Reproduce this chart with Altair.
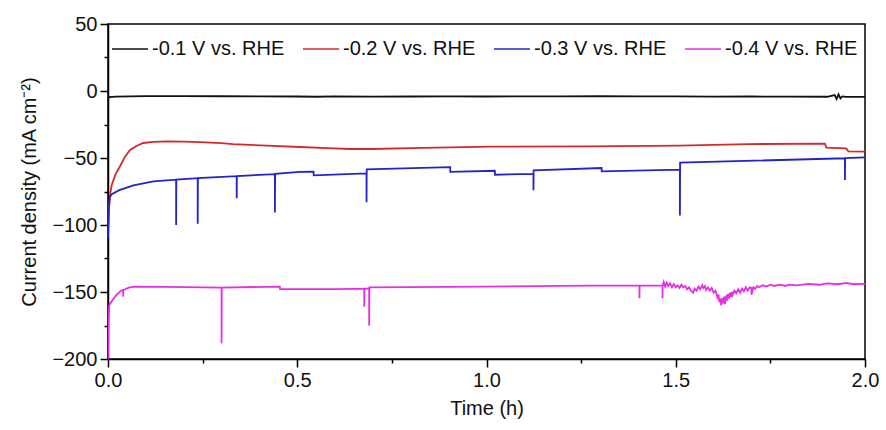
import altair as alt
import pandas as pd

# ---- data ----
labels = ["-0.1 V vs. RHE", "-0.2 V vs. RHE", "-0.3 V vs. RHE", "-0.4 V vs. RHE"]
colors = ["#111111", "#d42a2a", "#2323c8", "#e62ee6"]

t_01 = [0, 0.003, 0.02, 0.1, 0.2, 0.3, 0.4, 0.5, 0.55, 0.6, 0.7, 0.8, 0.9, 1.0, 1.1, 1.2,
        1.3, 1.4, 1.5, 1.6, 1.7, 1.8, 1.9, 1.92, 1.925, 1.93, 1.935, 1.94, 1.95, 2.0]
j_01 = [-6, -4.5, -4.2, -3.8, -3.8, -3.9, -4.0, -4.1, -4.3, -4.0, -4.2, -4.1, -4.0, -4.1, -4.0, -4.0,
        -3.9, -4.0, -4.0, -4.2, -4.1, -4.2, -4.3, -3.0, -6.0, -2.5, -5.5, -4.0, -4.4, -4.4]

t_02 = [0, 0.002, 0.005, 0.01, 0.02, 0.032, 0.045, 0.058, 0.075, 0.093, 0.12, 0.155, 0.2, 0.243,
        0.3, 0.33, 0.42, 0.507, 0.58, 0.64, 0.7, 0.83, 1.01, 1.27, 1.51, 1.69, 1.894, 1.898,
        1.95, 1.956, 2.0]
j_02 = [-105, -90, -78, -70, -62, -56, -49, -44, -41, -38.8, -38, -37.6, -37.8, -38.1,
        -38.9, -39.6, -40.8, -41.8, -42.7, -43.3, -43.3, -42.5, -41.5, -41.3, -40.8, -39.6, -39.3, -42.3,
        -42.8, -45, -45.2]

t_03 = [0, 0.002, 0.005, 0.01, 0.03, 0.067, 0.12, 0.18, 0.18, 0.1805, 0.237, 0.237, 0.2375,
        0.34, 0.34, 0.3405, 0.441, 0.441, 0.4415, 0.507, 0.543, 0.5435, 0.683, 0.683, 0.6835,
        0.904, 0.9045, 1.022, 1.0225, 1.124, 1.124, 1.1245, 1.304, 1.3045, 1.511, 1.511, 1.5115,
        1.947, 1.947, 1.9475, 2.0]
j_03 = [-110, -88, -79, -77, -74, -70.5, -67.5, -66.2, -100, -66.2, -65, -99, -65,
        -63.5, -80, -63.5, -62, -90.6, -61.8, -60.3, -60.2, -63, -61.5, -83, -58.5,
        -56.8, -60.3, -59.5, -62.5, -61.8, -74, -59.3, -57.5, -60, -58.7, -93, -53.5,
        -50.2, -66.5, -50, -49.5]

t_04 = [0, 0.001, 0.003, 0.012, 0.023, 0.035, 0.04, 0.04, 0.0405, 0.055, 0.067, 0.15,
        0.3, 0.3, 0.3005, 0.454, 0.4545, 0.6, 0.677, 0.677, 0.6775, 0.69, 0.69, 0.6905,
        0.9, 1.273, 1.404, 1.404, 1.4045, 1.465, 1.465, 1.4655,
        1.468, 1.472, 1.476, 1.48, 1.485, 1.49, 1.495, 1.50, 1.505, 1.51, 1.515, 1.52, 1.525,
        1.53, 1.535, 1.54, 1.546, 1.55, 1.555, 1.56, 1.565, 1.57, 1.573, 1.577,
        1.58, 1.585, 1.59, 1.595, 1.60, 1.605, 1.61, 1.613, 1.615, 1.618, 1.62, 1.623, 1.625,
        1.628, 1.63, 1.633, 1.635, 1.638, 1.64, 1.643, 1.645, 1.648, 1.65, 1.655, 1.66, 1.665,
        1.67, 1.675, 1.68, 1.685, 1.69, 1.695, 1.70, 1.70, 1.705, 1.71, 1.715, 1.72, 1.73,
        1.74, 1.75, 1.76, 1.775, 1.79, 1.80, 1.82, 1.85, 1.88, 1.90, 1.93, 1.95, 1.97, 2.0]
j_04 = [-200, -175, -160, -156, -152, -149, -148.5, -153.5, -148.5, -146.8, -146, -146.2,
        -146.7, -188.3, -146.7, -146, -147.9, -147.9, -147.5, -161, -147.5, -147.3, -175, -146.6,
        -146.2, -145.3, -145.3, -154.6, -145.3, -145.3, -154.6, -145,
        -142.5, -146, -143, -145.5, -143.5, -146.5, -144, -146.5, -145, -147, -144.5, -146.5, -145.5,
        -148, -146.5, -149, -150.5, -147.5, -149, -146, -148, -145, -147, -145.5,
        -148.5, -146.5, -149, -147, -150.5, -149, -154, -152, -157.5, -155, -160, -154.5, -158.5,
        -153.5, -159, -152.5, -156.5, -151.5, -155, -150.5, -153.5, -150, -152.5, -149, -151, -148,
        -150.5, -147.5, -149.5, -146.5, -149, -146.5, -147, -152, -146.5, -147.5, -145.5, -146.5, -145,
        -146, -144.5, -145.5, -144.5, -145.5, -144.5, -145, -144, -144.6, -143.6, -144.2, -143.2, -144.2, -144]

x_ticks = [0, 0.25, 0.5, 0.75, 1.0, 1.25, 1.5, 1.75, 2.0]
y_ticks = [-200, -175, -150, -125, -100, -75, -50, -25, 0, 25, 50]

rows = []
for lab, ts, js in zip(labels, [t_01, t_02, t_03, t_04], [j_01, j_02, j_03, j_04]):
    for i, (t, j) in enumerate(zip(ts, js)):
        rows.append({"series": lab, "t": t, "j": j, "idx": i})
df = pd.DataFrame(rows)

FONT = "Liberation Sans"

chart = alt.Chart(df).mark_line(strokeWidth=1.8, clip=True).encode(
    x=alt.X("t:Q", title="Time (h)",
            scale=alt.Scale(domain=[0, 2], nice=False),
            axis=alt.Axis(values=x_ticks, format=".1f", labelFlush=False,
                          labelExpr="round(datum.value*4) % 2 === 0 ? datum.label : ''",
                          tickSize={"condition": {"test": "round(datum.value*4) % 2 === 0", "value": 8}, "value": 4},
                          grid=False, titlePadding=8)),
    y=alt.Y("j:Q", title="Current density (mA cm⁻²)",
            scale=alt.Scale(domain=[-200, 50], nice=False),
            axis=alt.Axis(values=y_ticks, labelFlush=False,
                          labelExpr="datum.value % 50 === 0 ? datum.label : ''",
                          tickSize={"condition": {"test": "datum.value % 50 === 0", "value": 8}, "value": 4},
                          grid=False, titlePadding=12)),
    color=alt.Color("series:N", scale=alt.Scale(domain=labels, range=colors),
                    legend=alt.Legend(title=None, orient="none", direction="horizontal",
                                      legendX=3, legendY=6, symbolType="stroke",
                                      symbolSize=1300, symbolStrokeWidth=1.5,
                                      labelFont=FONT, labelFontSize=20, labelColor="#111",
                                      labelOffset=3, columnPadding=14, labelLimit=300)),
    order="idx:Q",
).properties(
    width=757, height=335,
    background="white",
    autosize=alt.AutoSizeParams(type="none"),
    padding={"left": 108, "top": 24, "right": 21, "bottom": 71},
).configure_view(
    stroke="black", strokeWidth=1.5
).configure_axis(
    domainColor="black", domainWidth=1.5, tickColor="black", tickWidth=1.5,
    labelFont=FONT, labelFontSize=20, labelColor="#111", labelPadding=3,
    titleFont=FONT, titleFontSize=20, titleFontWeight="normal", titleColor="#111",
)

chart.save("out.html", embed_options={"renderer": "svg", "actions": False})
